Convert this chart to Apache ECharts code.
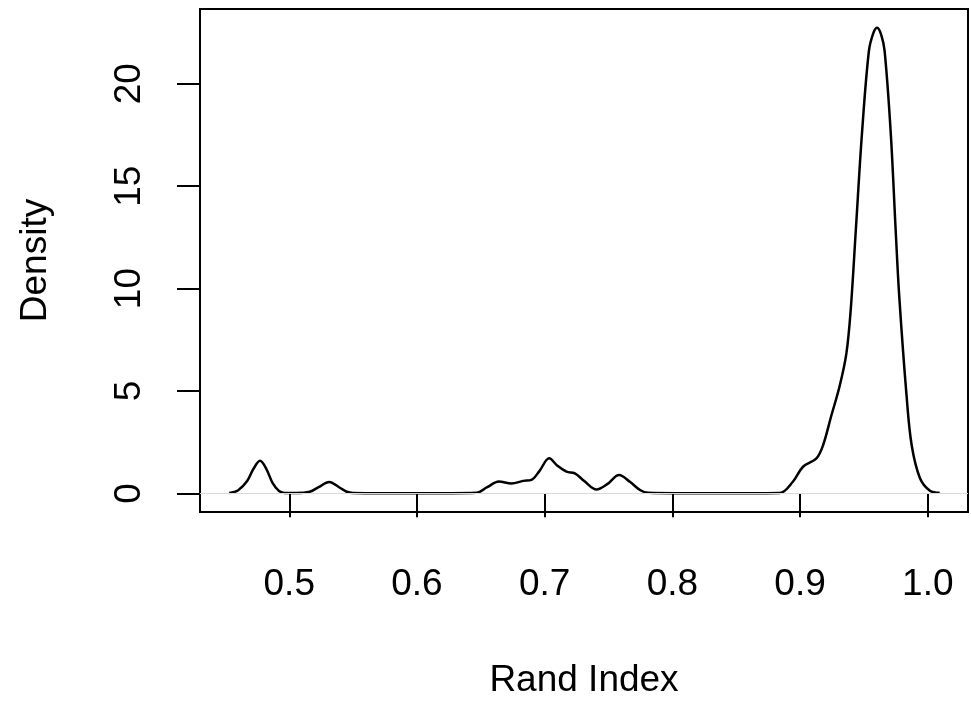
<!DOCTYPE html>
<html>
<head>
<meta charset="utf-8">
<script src="https://cdn.jsdelivr.net/npm/echarts@6/dist/echarts.min.js"></script>
<style>
html,body{margin:0;padding:0;background:#fff;}
#c{width:971px;height:704px;}
</style>
</head>
<body>
<div id="c"></div>
<script>
const xValues = [0.453, 0.460, 0.467, 0.472, 0.4771, 0.482, 0.487, 0.492, 0.4966, 0.505, 0.516, 0.523, 0.5313, 0.539, 0.545, 0.550, 0.600, 0.6467, 0.655, 0.6641, 0.674, 0.6832, 0.6897, 0.696, 0.7035, 0.710, 0.7171, 0.7236, 0.731, 0.7406, 0.749, 0.7583, 0.767, 0.775, 0.781, 0.830, 0.884, 0.8945, 0.9023, 0.9128, 0.918, 0.9245, 0.931, 0.9363, 0.9397, 0.9436, 0.9485, 0.9539, 0.9575, 0.9604, 0.9635, 0.9662, 0.9710, 0.9749, 0.9777, 0.9834, 0.9874, 0.9939, 1.0017, 1.0093];
const densityValues = [0.02, 0.15, 0.6, 1.2, 1.59, 1.2, 0.5, 0.12, 0.02, 0.02, 0.08, 0.3, 0.56, 0.3, 0.08, 0.02, 0.0, 0.03, 0.3, 0.58, 0.48, 0.61, 0.66, 1.1, 1.71, 1.35, 1.06, 0.98, 0.6, 0.19, 0.45, 0.90, 0.55, 0.15, 0.03, 0.0, 0.02, 0.58, 1.30, 1.71, 2.35, 3.80, 5.24, 6.85, 9.0, 12.8, 17.6, 21.6, 22.5, 22.74, 22.4, 21.6, 17.6, 12.8, 9.58, 4.76, 2.35, 0.74, 0.13, 0.03];
const xTicks = [0.5, 0.6, 0.7, 0.8, 0.9, 1.0];
const yTicks = [0, 5, 10, 15, 20];
const xTitle = 'Rand Index';
const yTitle = 'Density';

const font = '"Liberation Sans", Arial, Helvetica, sans-serif';
const chart = echarts.init(document.getElementById('c'), null, {renderer: 'canvas'});
const data = xValues.map((x, i) => [x, densityValues[i]]);

chart.setOption({
  animation: false,
  backgroundColor: '#ffffff',
  grid: {left: 200, top: 9, right: 3, bottom: 187, show: true, borderColor: '#000', borderWidth: 2, backgroundColor: 'transparent'},
  xAxis: {
    type: 'value', min: 0.4301, max: 1.0315,
    interval: 0.1,
    axisLine: {show: false},
    axisTick: {show: true, length: 24, lineStyle: {color: '#000', width: 2}, customValues: xTicks},
    axisLabel: {show: true, margin: 54, color: '#000', fontSize: 37, fontFamily: font,
      customValues: xTicks, formatter: v => v.toFixed(1)},
    splitLine: {show: false},
    name: xTitle, nameLocation: 'middle', nameGap: 150,
    nameTextStyle: {color: '#000', fontSize: 37, fontFamily: font}
  },
  yAxis: {
    type: 'value', min: -0.91, max: 23.65,
    axisLine: {show: false},
    axisTick: {show: true, length: 23, lineStyle: {color: '#000', width: 2}, customValues: yTicks},
    axisLabel: {show: true, rotate: 90, margin: 52, color: '#000', fontSize: 37, fontFamily: font,
      customValues: yTicks, formatter: v => String(v)},
    splitLine: {show: false},
    name: yTitle, nameLocation: 'middle', nameGap: 146, nameRotate: 90,
    nameTextStyle: {color: '#000', fontSize: 37, fontFamily: font}
  },
  series: [{
    type: 'line',
    data: data,
    smooth: 0.35,
    showSymbol: false,
    lineStyle: {color: '#000', width: 2.5},
    markLine: {
      silent: true, symbol: 'none', label: {show: false},
      lineStyle: {color: '#d9d9d9', width: 1, type: 'solid'},
      data: [{yAxis: 0}]
    }
  }]
});
</script>
</body>
</html>
